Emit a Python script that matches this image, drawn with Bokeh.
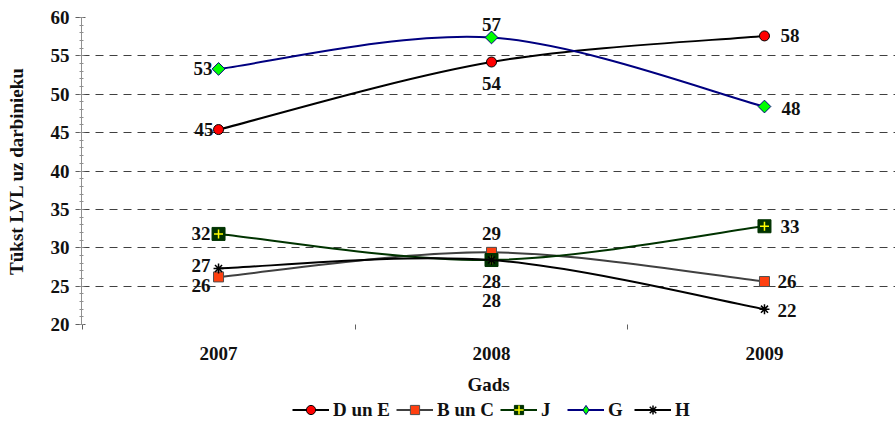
import math
from bokeh.plotting import figure
from bokeh.layouts import column
from bokeh.models import (Range1d, FixedTicker, SingleIntervalTicker, Legend,
                          LegendItem, ColumnDataSource)
from bokeh.core.properties import value
from bokeh.embed import file_html
from bokeh.resources import INLINE

# ---------------- data ----------------
years = ["2007", "2008", "2009"]
series_names = ["D un E", "B un C", "J", "G", "H"]
d_un_e = [45.4, 54.2, 57.6]
b_un_c = [26.2, 29.4, 25.6]
j_vals = [31.8, 28.4, 32.8]
g_vals = [53.3, 57.4, 48.4]
h_vals = [27.3, 28.4, 22.0]
x_title = "Gads"
y_title = "Tūkst LVL uz darbinieku"

FONT = "Liberation Serif"

# ---------------- styles ----------------
styles = {
    "D un E": dict(line="#000000", marker="circle", fill="#FF0000", mline="#000000", size=10, angle=0, lmarker="circle"),
    "B un C": dict(line="#404040", marker="square", fill="#FF4010", mline="#505050", size=10, angle=0, lmarker="square"),
    "J": dict(line="#003300", marker="square", fill="#003300", mline="#003300", size=13, angle=0, lmarker="square"),
    "G": dict(line="#000080", marker="square", fill="#00FF00", mline="#000080", size=9, angle=math.pi / 4, lmarker="diamond"),
    "H": dict(line="#000000", marker="asterisk", fill="#000000", mline="#000000", size=10, angle=0, lmarker="asterisk"),
}
# label placement per point: (align, x_offset px, y_offset px)
placement = {
    "D un E": [("right", -5, 0), ("center", 0, 21), ("left", 16, 0)],
    "B un C": [("right", -8, 9), ("center", 0, -19), ("left", 13, 0)],
    "J": [("right", -8, 0), ("center", 0, 21), ("left", 16, 0)],
    "G": [("right", -6, 0), ("center", 0, -13), ("left", 17, 2)],
    "H": [("right", -8, -3), ("center", 0, 40), ("left", 13, 1)],
}
values = {"D un E": d_un_e, "B un C": b_un_c, "J": j_vals, "G": g_vals, "H": h_vals}

MAIN_H = 398
LEG_H = 421 - MAIN_H

p = figure(width=895, height=MAIN_H, output_backend="svg", toolbar_location=None,
           x_range=Range1d(-0.502, 2.48), y_range=Range1d(20, 60),
           min_border_left=81, min_border_right=0, min_border_top=17,
           min_border_bottom=MAIN_H - 17 - 307)
p.outline_line_color = None
p.background_fill_color = "white"
p.border_fill_color = "white"


def smooth(vals):
    n = len(vals)
    xs = list(range(n))
    seg = dict(x0=[], y0=[], x1=[], y1=[], cx0=[], cy0=[], cx1=[], cy1=[])
    for i in range(n - 1):
        im, ip = max(i - 1, 0), min(i + 2, n - 1)
        seg["x0"].append(xs[i]); seg["y0"].append(vals[i])
        seg["x1"].append(xs[i + 1]); seg["y1"].append(vals[i + 1])
        seg["cx0"].append(xs[i] + (xs[i + 1] - xs[im]) / 6)
        seg["cy0"].append(vals[i] + (vals[i + 1] - vals[im]) / 6)
        seg["cx1"].append(xs[i + 1] - (xs[ip] - xs[i]) / 6)
        seg["cy1"].append(vals[i + 1] - (vals[ip] - vals[i]) / 6)
    return seg


# legend strip (separate small figure under the chart); its proxy glyphs carry
# the series data but lie outside this strip's ranges, so only the legend shows
pl = figure(width=895, height=LEG_H, output_backend="svg", toolbar_location=None,
            x_range=Range1d(0, 1), y_range=Range1d(0, 1),
            min_border=0, min_border_left=0, min_border_right=0, min_border_top=0, min_border_bottom=0)
pl.axis.visible = False
pl.grid.visible = False
pl.outline_line_color = None
pl.background_fill_color = "white"
pl.border_fill_color = "white"

items = []
for name in series_names:
    vals = values[name]
    st = styles[name]
    xs = list(range(len(vals)))
    p.bezier(source=ColumnDataSource(smooth(vals)), x0="x0", y0="y0", x1="x1", y1="y1",
             cx0="cx0", cy0="cy0", cx1="cx1", cy1="cy1",
             line_color=st["line"], line_width=2)
    if st["marker"] == "asterisk":
        p.scatter(xs, vals, marker="asterisk", size=st["size"], line_color=st["mline"], line_width=1.5)
    else:
        p.scatter(xs, vals, marker=st["marker"], size=st["size"], fill_color=st["fill"],
                  line_color=st["mline"], line_width=1, angle=st["angle"])
    if name == "J":
        p.scatter(xs, vals, marker="cross", size=9, line_color="#FFFF00", line_width=1.5)

    for i, v in enumerate(vals):
        align, dx, dy = placement[name][i]
        p.text(x=[i], y=[v], text=[f"{v:.0f}"], text_align=align, text_baseline="middle",
               x_offset=dx, y_offset=dy, text_font=value(FONT), text_font_style="bold",
               text_font_size="19px", text_color="#111111")

    # legend proxies
    l_line = pl.line(xs, vals, line_color=st["line"], line_width=2)
    rends = [l_line]
    if st["lmarker"] == "asterisk":
        rends.append(pl.scatter(xs, vals, marker="asterisk", line_color=st["mline"], line_width=1.5))
    else:
        rends.append(pl.scatter(xs, vals, marker=st["lmarker"], fill_color=st["fill"],
                                line_color=st["mline"], line_width=1))
    if name == "J":
        rends.append(pl.scatter(xs, vals, marker="cross", line_color="#FFFF00", line_width=1.5))
    items.append(LegendItem(label=name, renderers=rends))

legend = Legend(items=items, orientation="horizontal", location=(211, 0),
                padding=0, margin=0, spacing=6, glyph_width=37, glyph_height=LEG_H,
                label_height=LEG_H, label_standoff=4,
                label_text_font=FONT, label_text_font_style="bold",
                label_text_font_size="19px", label_text_color="#111111",
                border_line_color=None, background_fill_alpha=0)
pl.add_layout(legend, "center")

# axes
xa = p.xaxis[0]
xa.ticker = FixedTicker(ticks=[0, 1, 2], minor_ticks=[-0.5, 0.5, 1.5, 2.5])
xa.major_label_overrides = {i: y for i, y in enumerate(years)}
xa.axis_line_color = None
xa.major_tick_line_color = None
xa.major_tick_out = 0
xa.major_tick_in = 0
xa.minor_tick_line_color = "#606060"
xa.minor_tick_out = 5
xa.minor_tick_in = 0
xa.major_label_standoff = 17
xa.major_label_text_font = FONT
xa.major_label_text_font_style = "bold"
xa.major_label_text_font_size = "19px"
xa.major_label_text_color = "#111111"
xa.axis_label = x_title
xa.axis_label_standoff = 11
xa.axis_label_text_font = FONT
xa.axis_label_text_font_style = "bold"
xa.axis_label_text_font_size = "19px"
xa.axis_label_text_color = "#111111"

ya = p.yaxis[0]
ya.ticker = SingleIntervalTicker(interval=5, num_minor_ticks=5)
ya.axis_line_color = "#909090"
ya.major_tick_line_color = "#606060"
ya.major_tick_out = 6
ya.major_tick_in = 4
ya.minor_tick_line_color = "#909090"
ya.minor_tick_out = 2
ya.minor_tick_in = 2
ya.major_label_standoff = 6
ya.major_label_text_font = FONT
ya.major_label_text_font_style = "bold"
ya.major_label_text_font_size = "19px"
ya.major_label_text_color = "#111111"
ya.axis_label = y_title
ya.axis_label_standoff = 21
ya.axis_label_text_font = FONT
ya.axis_label_text_font_style = "bold"
ya.axis_label_text_font_size = "19px"
ya.axis_label_text_color = "#111111"

p.xgrid.grid_line_color = None
p.ygrid.ticker = SingleIntervalTicker(interval=5)
p.ygrid.grid_line_color = "#404040"
p.ygrid.grid_line_dash = "8 6"
p.ygrid.grid_line_width = 1

layout = column(p, pl, spacing=0)
open("out.html", "w").write(file_html(layout, INLINE))
